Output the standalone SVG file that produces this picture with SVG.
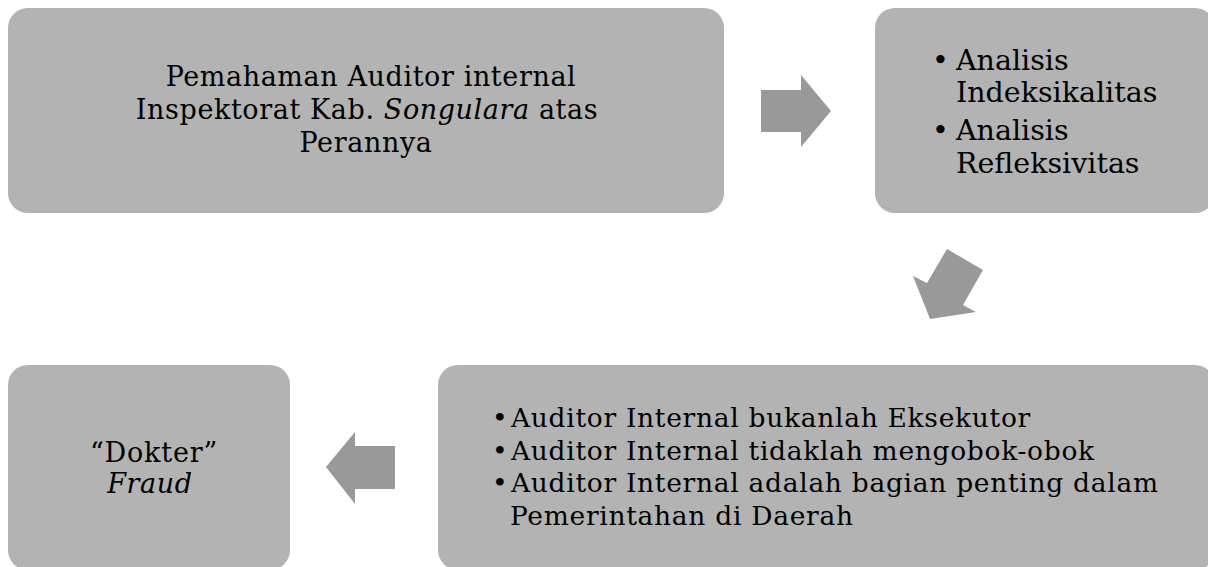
<svg xmlns="http://www.w3.org/2000/svg" width="1208" height="567" viewBox="0 0 1208 567">
<style>
.box{fill:#b3b3b3}
.arr{fill:#999999}
text{font-family:"DejaVu Serif","Liberation Serif",serif;fill:#000}
.t1{font-size:27px;letter-spacing:0.6px}
.t2{font-size:28.5px}
.t3{font-size:26.5px;letter-spacing:0.7px}
.c{text-anchor:middle}
</style>
<rect width="1208" height="567" fill="#ffffff"/>
<g id="node-pemahaman">
<rect class="box" x="8" y="8" width="716" height="205" rx="20" ry="20"/>
<text class="t1 c" x="371" y="86">Pemahaman Auditor internal</text>
<text class="t1 c" x="367" y="119">Inspektorat Kab. <tspan font-style="italic">Songulara</tspan> atas</text>
<text class="t1 c" x="366" y="152">Perannya</text>
</g>
<g id="node-analisis">
<rect class="box" x="875" y="8" width="340" height="205" rx="20" ry="20"/>
<text class="t2" x="932" y="70">•</text>
<text class="t2" x="956" y="70">Analisis</text>
<text class="t2" x="956" y="102">Indeksikalitas</text>
<text class="t2" x="932" y="140">•</text>
<text class="t2" x="956" y="140">Analisis</text>
<text class="t2" x="956" y="173">Refleksivitas</text>
</g>
<g id="node-auditor">
<rect class="box" x="438" y="365" width="777" height="205" rx="20" ry="20"/>
<text class="t3" x="492" y="427">•</text>
<text class="t3" x="511" y="427">Auditor Internal bukanlah Eksekutor</text>
<text class="t3" x="492" y="460">•</text>
<text class="t3" x="511" y="460">Auditor Internal tidaklah mengobok-obok</text>
<text class="t3" x="492" y="492">•</text>
<text class="t3" x="511" y="492">Auditor Internal adalah bagian penting dalam</text>
<text class="t3" x="510" y="525">Pemerintahan di Daerah</text>
</g>
<g id="node-dokter">
<rect class="box" x="8" y="365" width="282" height="205" rx="20" ry="20"/>
<text class="t1 c" x="154" y="462" style="letter-spacing:0.8px">“Dokter”</text>
<text class="t1 c" x="150" y="493" font-style="italic">Fraud</text>
</g>
<g id="connectors">
<polygon class="arr" points="761,90 801,90 801,75 831,111 801,147 801,132 761,132"/>
<polygon class="arr" points="947,249 983,270 963,305 976,312 930,319 913,276 927,283"/>
<polygon class="arr" points="395,446 355,446 355,432 326,467 355,504 355,489 395,489"/>
</g>
</svg>
